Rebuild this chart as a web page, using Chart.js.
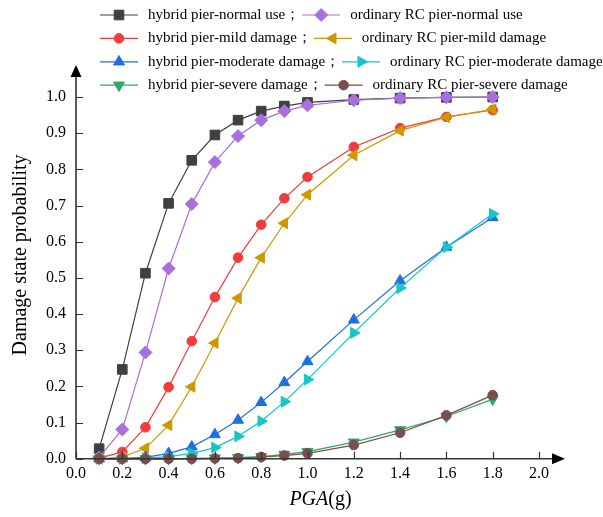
<!DOCTYPE html>
<html>
<head>
<meta charset="utf-8">
<script src="https://cdn.jsdelivr.net/npm/chart.js@4.4.1/dist/chart.umd.min.js"></script>
<style>
  html, body { margin: 0; padding: 0; background: #fff; }
  #wrap { width: 603px; height: 517px; position: relative; }
</style>
</head>
<body>
<div id="wrap"><canvas id="fragility"></canvas></div>
<script>
// PGA (g) values where the curves were evaluated
var pga = [0.1, 0.2, 0.3, 0.4, 0.5, 0.6, 0.7, 0.8, 0.9, 1.0, 1.2, 1.4, 1.6, 1.8];

// probabilities
var hybridNormal   = [0.028, 0.247, 0.513, 0.706, 0.825, 0.895, 0.936, 0.961, 0.975, 0.985, 0.993, 0.997, 0.999, 1.0];
var rcNormal       = [0.004, 0.081, 0.294, 0.526, 0.704, 0.820, 0.892, 0.936, 0.961, 0.977, 0.991, 0.997, 0.999, 1.0];
var hybridMild     = [0.002, 0.019, 0.087, 0.198, 0.325, 0.447, 0.556, 0.647, 0.720, 0.779, 0.862, 0.914, 0.945, 0.964];
var rcMild         = [0.000, 0.005, 0.029, 0.093, 0.199, 0.320, 0.444, 0.556, 0.651, 0.730, 0.839, 0.907, 0.944, 0.966];
var hybridModerate = [0.000, 0.001, 0.004, 0.015, 0.033, 0.067, 0.107, 0.156, 0.211, 0.269, 0.384, 0.492, 0.585, 0.667];
var rcModerate     = [0.000, 0.000, 0.002, 0.006, 0.015, 0.031, 0.062, 0.104, 0.158, 0.219, 0.348, 0.472, 0.585, 0.677];
var hybridSevere   = [0.000, 0.000, 0.000, 0.000, 0.001, 0.002, 0.003, 0.006, 0.012, 0.020, 0.046, 0.080, 0.117, 0.165];
var rcSevere       = [0.000, 0.000, 0.000, 0.000, 0.000, 0.001, 0.002, 0.005, 0.009, 0.015, 0.038, 0.072, 0.120, 0.176];

var seriesLabels = [
  "hybrid pier-normal use；", "ordinary RC pier-normal use",
  "hybrid pier-mild damage；", "ordinary RC pier-mild damage",
  "hybrid pier-moderate damage；", "ordinary RC pier-moderate damage",
  "hybrid pier-severe damage；", "ordinary RC pier-severe damage"
];
var xTicks = [0, 0.2, 0.4, 0.6, 0.8, 1.0, 1.2, 1.4, 1.6, 1.8, 2.0];

var serif = "'Liberation Serif', 'Times New Roman', serif";

function pts(ys) {
  return ys.map(function (y, i) { return { x: pga[i], y: y }; });
}

function series(label, ys, color, style, radius, rotation, order) {
  return {
    label: label,
    data: pts(ys),
    borderColor: color,
    backgroundColor: color,
    pointBackgroundColor: color,
    pointBorderColor: color,
    pointBorderWidth: 1,
    borderWidth: 1.2,
    pointStyle: style,
    pointRadius: radius,
    pointHoverRadius: radius,
    pointRotation: rotation,
    tension: 0,
    clip: false,
    order: order
  };
}

var datasets = [
  series(seriesLabels[0], hybridNormal,   "#404040", "rect",     6.8, 0,   8),
  series(seriesLabels[1], rcNormal,       "#a970dd", "rectRot",  6.5, 0,   7),
  series(seriesLabels[2], hybridMild,     "#f03c3c", "circle",   4.8, 0,   6),
  series(seriesLabels[3], rcMild,         "#cc9900", "triangle", 6.3, -90, 5),
  series(seriesLabels[4], hybridModerate, "#1f6fe0", "triangle", 6.3, 0,   4),
  series(seriesLabels[5], rcModerate,     "#17c6c6", "triangle", 6.3, 90,  3),
  series(seriesLabels[6], hybridSevere,   "#2ea866", "triangle", 6.3, 180, 2),
  series(seriesLabels[7], rcSevere,       "#7a4e4e", "circle",   4.8, 0,   1)
];

// axis lines with arrows, inward tick marks and the axis titles
var axisArrows = {
  id: "axisArrows",
  afterDraw: function (chart) {
    var ctx = chart.ctx;
    var a = chart.chartArea;
    var xs = chart.scales.x, ys = chart.scales.y;
    ctx.save();
    ctx.strokeStyle = "#333";
    ctx.fillStyle = "#000";
    ctx.lineWidth = 1.6;
    ctx.beginPath();
    ctx.moveTo(a.left, a.bottom);
    ctx.lineTo(a.left, a.top - 20);
    ctx.moveTo(a.left, a.bottom);
    ctx.lineTo(a.right + 14, a.bottom);
    ctx.stroke();
    // arrow heads
    ctx.beginPath();
    ctx.moveTo(a.left, a.top - 32);
    ctx.lineTo(a.left - 5.5, a.top - 20);
    ctx.lineTo(a.left + 5.5, a.top - 20);
    ctx.closePath();
    ctx.fill();
    ctx.beginPath();
    ctx.moveTo(a.right + 26, a.bottom);
    ctx.lineTo(a.right + 13, a.bottom - 5.5);
    ctx.lineTo(a.right + 13, a.bottom + 5.5);
    ctx.closePath();
    ctx.fill();
    // ticks
    ctx.lineWidth = 1.2;
    ctx.beginPath();
    ys.ticks.forEach(function (t) {
      var py = Math.round(ys.getPixelForValue(t.value)) + 0.5;
      ctx.moveTo(a.left, py);
      ctx.lineTo(a.left + 7, py);
    });
    xs.ticks.forEach(function (t) {
      var px = Math.round(xs.getPixelForValue(t.value)) + 0.5;
      ctx.moveTo(px, a.bottom);
      ctx.lineTo(px, a.bottom - 7);
    });
    ctx.stroke();

    // x title: italic PGA then (g), centred on the axis including the arrow
    ctx.fillStyle = "#000";
    ctx.textBaseline = "middle";
    var italic = "italic 20px " + serif, upright = "20px " + serif;
    ctx.font = italic;
    var w1 = ctx.measureText("PGA").width;
    ctx.font = upright;
    var w2 = ctx.measureText("(g)").width;
    var cx = (a.left + a.right + 26) / 2;
    var ty = xs.bottom - 12;
    ctx.font = italic;
    ctx.textAlign = "left";
    ctx.fillText("PGA", cx - (w1 + w2) / 2, ty);
    ctx.font = upright;
    ctx.fillText("(g)", cx - (w1 + w2) / 2 + w1, ty);

    // y title, centred on the axis including the arrow
    ctx.save();
    ctx.translate(ys.left + 9 + 12, (a.top - 32 + a.bottom) / 2 - 7);
    ctx.rotate(-Math.PI / 2);
    ctx.textAlign = "center";
    ctx.font = upright;
    ctx.fillText("Damage state probability", 0, 0);
    ctx.restore();
    ctx.restore();
  }
};

// two-column legend laid out like the original figure
var pairLegend = {
  id: "pairLegend",
  afterDraw: function (chart) {
    var ctx = chart.ctx;
    ctx.save();
    ctx.font = "15px " + serif;
    ctx.textBaseline = "middle";
    for (var row = 0; row < 4; row++) {
      var y = 15 + row * 23.4;
      var x = 100;
      for (var col = 0; col < 2; col++) {
        var ds = chart.data.datasets[row * 2 + col];
        ctx.strokeStyle = ds.borderColor;
        ctx.lineWidth = 1.2;
        ctx.beginPath();
        ctx.moveTo(x, y);
        ctx.lineTo(x + 38, y);
        ctx.stroke();
        ctx.fillStyle = ds.pointBackgroundColor;
        ctx.strokeStyle = ds.pointBorderColor;
        ctx.lineWidth = 1;
        Chart.helpers.drawPoint(ctx, {
          pointStyle: ds.pointStyle,
          rotation: ds.pointRotation,
          radius: ds.pointRadius,
          borderWidth: 1
        }, x + 19, y);
        ctx.fillStyle = "#000";
        ctx.fillText(ds.label, x + 48, y);
        x = x + 48 + ctx.measureText(ds.label).width + 2;
      }
    }
    ctx.restore();
  }
};

var ctx = document.getElementById("fragility").getContext("2d");
var fragilityChart = new Chart(ctx, {
  type: "line",
  data: { datasets: datasets },
  plugins: [axisArrows, pairLegend],
  options: {
    responsive: true,
    maintainAspectRatio: false,
    animation: false,
    layout: { padding: { top: 97, right: 64, bottom: 5, left: 0 } },
    plugins: {
      legend: { display: false },
      tooltip: { enabled: false }
    },
    scales: {
      x: {
        type: "linear",
        min: 0,
        max: 2.0,
        afterBuildTicks: function (scale) {
          scale.ticks = xTicks.map(function (v) { return { value: v }; });
        },
        ticks: {
          padding: 5,
          color: "#000",
          font: { family: serif, size: 16 },
          maxRotation: 0,
          autoSkip: false,
          callback: function (v) { return Number(v).toFixed(1); }
        },
        grid: { display: false, drawTicks: false },
        border: { display: false },
        // space is kept here, the text itself is drawn by axisArrows
        title: {
          display: true,
          text: "PGA(g)",
          color: "rgba(0,0,0,0)",
          font: { family: serif, size: 20 },
          padding: { top: 0, bottom: 0 }
        }
      },
      y: {
        min: 0,
        max: 1.0,
        ticks: {
          stepSize: 0.1,
          padding: 10,
          color: "#000",
          font: { family: serif, size: 16 },
          callback: function (v) { return Number(v).toFixed(1); }
        },
        grid: { display: false, drawTicks: false },
        border: { display: false },
        title: {
          display: true,
          text: "Damage state probability",
          color: "rgba(0,0,0,0)",
          font: { family: serif, size: 20 },
          padding: { top: 9, bottom: 3 }
        }
      }
    }
  }
});
</script>
</body>
</html>
